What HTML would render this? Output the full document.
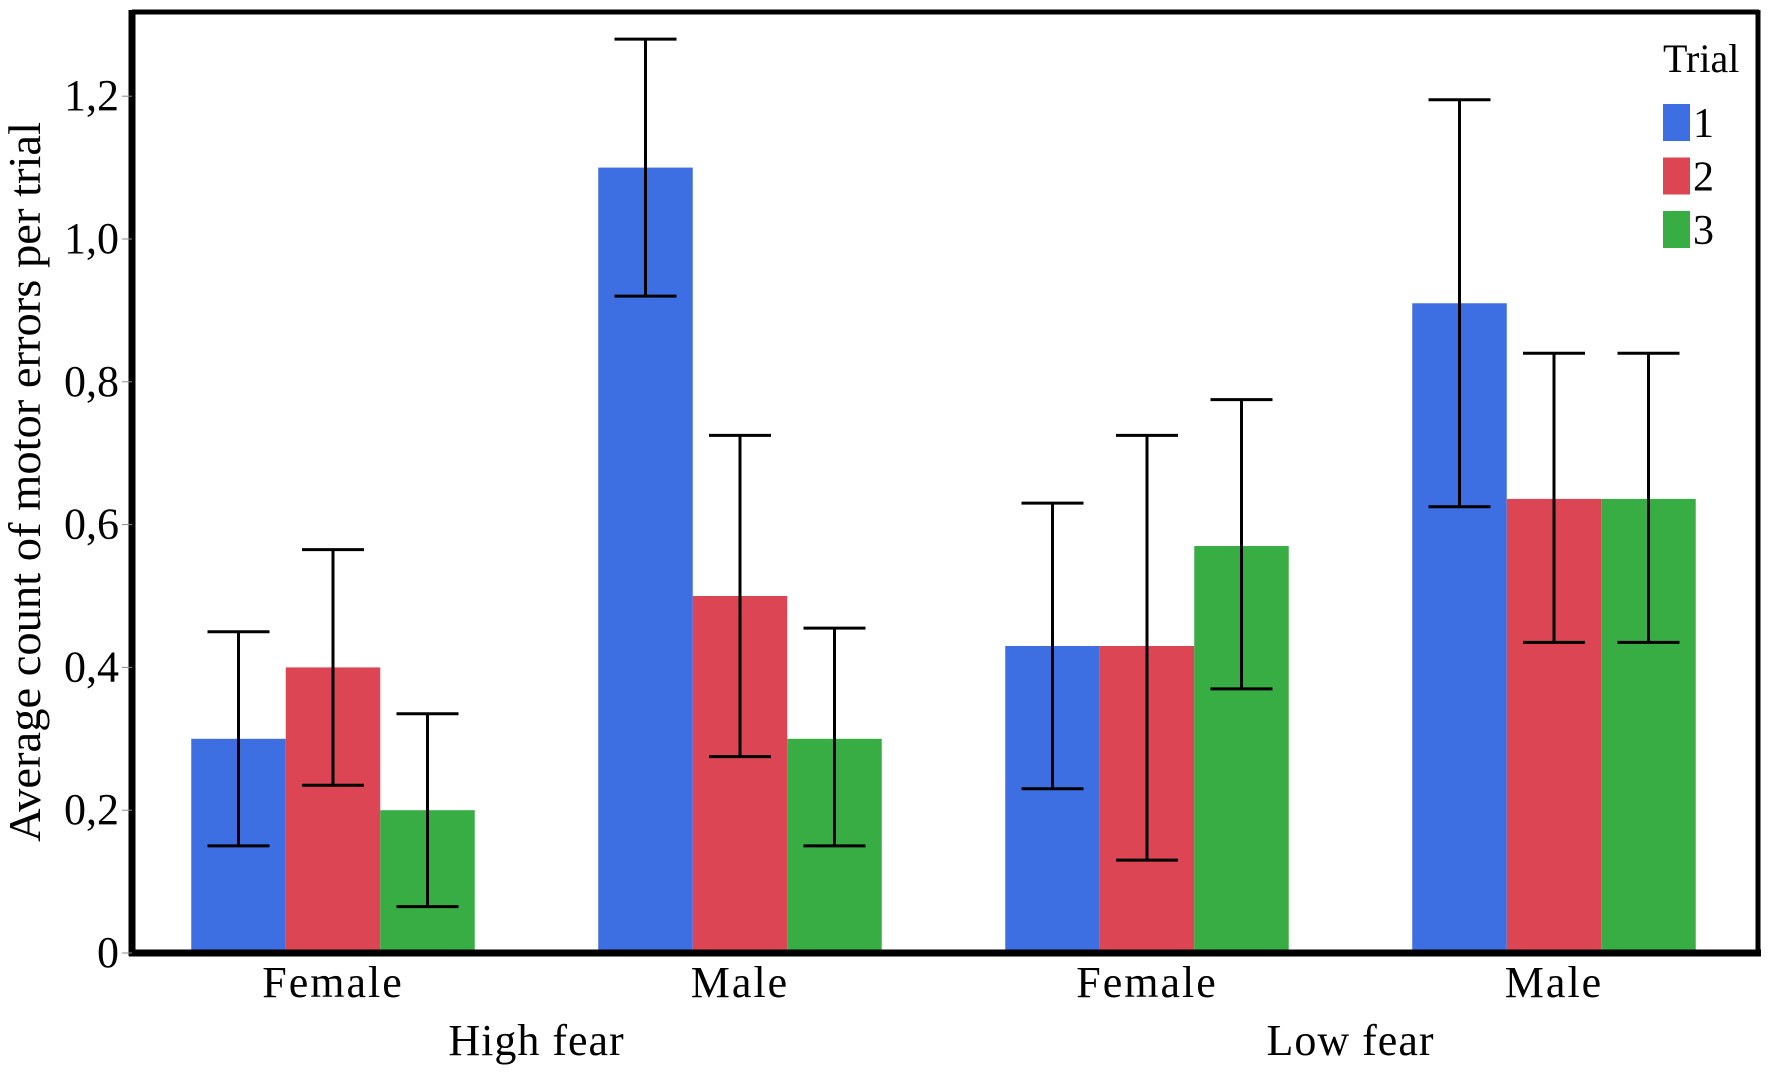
<!DOCTYPE html>
<html><head><meta charset="utf-8"><style>body{margin:0;background:#fff}svg{display:block}</style></head>
<body>
<svg id="chart" width="1772" height="1073" viewBox="0 0 1772 1073" xmlns="http://www.w3.org/2000/svg" font-family="'Liberation Serif', serif"></svg>
<script>
const groups = ["Female","Male","Female","Male"];
const fearLevels = ["High fear","Low fear"];
const trials = ["1","2","3"];
const trial1 = [0.30, 1.10, 0.43, 0.91];
const trial2 = [0.40, 0.50, 0.43, 0.636];
const trial3 = [0.20, 0.30, 0.57, 0.636];
const low1 = [0.15, 0.92, 0.23, 0.625];
const high1 = [0.45, 1.28, 0.63, 1.195];
const low2 = [0.235, 0.275, 0.13, 0.435];
const high2 = [0.565, 0.725, 0.725, 0.84];
const low3 = [0.065, 0.15, 0.37, 0.435];
const high3 = [0.335, 0.455, 0.775, 0.84];
const yTicks = [0, 0.2, 0.4, 0.6, 0.8, 1.0, 1.2];
const yTickLabels = ["0","0,2","0,4","0,6","0,8","1,0","1,2"];

const NS = "http://www.w3.org/2000/svg";
const svg = document.getElementById("chart");
const y0 = 953, pxPerUnit = 714;
const yScale = v => y0 - v * pxPerUnit;
const groupCenter = i => 333 + i * 407;
const barW = 94.5;
const colors = ["#3d6fe3", "#dc4553", "#38ad44"];
const values = [trial1, trial2, trial3];
const lows = [low1, low2, low3];
const highs = [high1, high2, high3];
function mk(tag, attrs, parent) {
  const e = document.createElementNS(NS, tag);
  for (const k in attrs) e.setAttribute(k, attrs[k]);
  (parent || svg).appendChild(e);
  return e;
}
for (let s = 0; s < 3; s++) {
  for (let g = 0; g < groups.length; g++) {
    const x = groupCenter(g) + (s - 1.5) * barW;
    const r = mk("rect", {x: x, y: yScale(values[s][g]), width: barW, height: y0 - yScale(values[s][g]), fill: colors[s]});
    
    
  }
}
for (let s = 0; s < 3; s++) {
  for (let g = 0; g < groups.length; g++) {
    const cx = groupCenter(g) + (s - 1) * barW;
    const eg = mk("g", {stroke: "#000", "stroke-width": 3});
    
    
    const yl = yScale(lows[s][g]), yh = yScale(highs[s][g]);
    mk("line", {x1: cx, x2: cx, y1: yl, y2: yh}, eg);
    mk("line", {x1: cx - 31, x2: cx + 31, y1: yl, y2: yl}, eg);
    mk("line", {x1: cx - 31, x2: cx + 31, y1: yh, y2: yh}, eg);
  }
}
const frame = mk("g", {fill: "none", stroke: "#000"});


mk("line", {x1: 132, x2: 1759, y1: 12, y2: 12, "stroke-width": 5}, frame);
mk("line", {x1: 1758, x2: 1758, y1: 10, y2: 955, "stroke-width": 5}, frame);
mk("line", {x1: 132, x2: 132, y1: 10, y2: 956, "stroke-width": 7}, frame);
mk("line", {x1: 129, x2: 1761, y1: 953, y2: 953, "stroke-width": 7}, frame);
yTicks.forEach((v, i) => {
  const t = mk("line", {x1: 122, x2: 132, y1: yScale(v), y2: yScale(v), stroke: "#888", "stroke-width": 1});
  
  
  const l = mk("text", {x: 119, y: yScale(v) + 14, "text-anchor": "end", "font-size": 44});
  l.textContent = yTickLabels[i];
  
  
});
groups.forEach((name, g) => {
  const l = mk("text", {x: groupCenter(g), y: 997, "text-anchor": "middle", "font-size": 44, "letter-spacing": 2});
  l.textContent = name;
  
  
});
fearLevels.forEach((name, i) => {
  const cx = (groupCenter(2*i) + groupCenter(2*i+1)) / 2;
  const l = mk("text", {x: cx, y: 1055, "text-anchor": "middle", "font-size": 44, "letter-spacing": 1});
  l.textContent = name;
  
  
});
const yt = mk("text", {x: 0, y: 0, transform: "translate(40,482) rotate(-90)", "text-anchor": "middle", "font-size": 46, textLength: 720, lengthAdjust: "spacingAndGlyphs"});
yt.textContent = "Average count of motor errors per trial";


const lg = mk("g", {});


const lt = mk("text", {x: 1663, y: 72, "font-size": 40}, lg);
lt.textContent = "Trial";


trials.forEach((name, s) => {
  const y = 104 + s * 53.5;
  const sw = mk("rect", {x: 1663, y: y, width: 27, height: 37, fill: colors[s]}, lg);
  
  
  const tx = mk("text", {x: 1693, y: y + 33, "font-size": 42}, lg);
  tx.textContent = name;
  
  
});
</script>
</body></html>
